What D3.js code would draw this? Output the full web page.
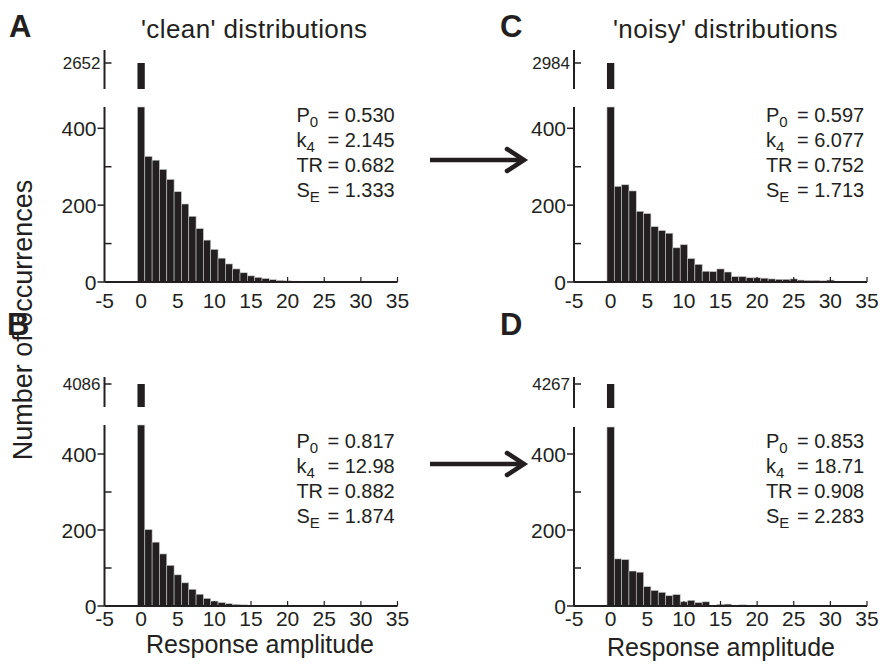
<!DOCTYPE html>
<html>
<head>
<meta charset="utf-8">
<script src="https://cdn.jsdelivr.net/npm/d3@7"></script>
<style>
  body { margin: 0; background: #fff; }
  svg text { font-family: "Liberation Sans", Arial, Helvetica, sans-serif; fill: #231f20; }
</style>
</head>
<body>
<div id="chart"></div>
<script>
// counts per bin of width 1, bin i centred on amplitude i (bin 0 is the big zero peak)
const cleanA = [2652, 327, 317, 293, 267, 235, 203, 171, 139, 109, 85, 62, 47, 34, 24, 16, 12, 9, 6, 4, 3, 2, 1];
const noisyC = [2984, 249, 253, 237, 184, 178, 144, 134, 127, 89, 97, 61, 46, 28, 27, 34, 26, 14, 14, 11, 11, 10, 8, 7, 7, 8, 5, 4, 4, 3, 5, 2, 2, 1, 1];
const cleanB = [4086, 201, 168, 137, 107, 82, 61, 44, 31, 20, 13, 9, 6, 4, 3, 2, 1, 1];
const noisyD = [4267, 124, 122, 92, 89, 51, 41, 36, 27, 30, 11, 15, 9, 11, 1, 4, 5, 2, 3, 2, 1, 1, 1, 2, 1, 1];

// stats shown in each panel: [P0, k4, TR, SE]
const statsA = ["0.530", "2.145", "0.682", "1.333"];
const statsC = ["0.597", "6.077", "0.752", "1.713"];
const statsB = ["0.817", "12.98", "0.882", "1.874"];
const statsD = ["0.853", "18.71", "0.908", "2.283"];

const xTicks = [-5, 0, 5, 10, 15, 20, 25, 30, 35];
const yMajor = [0, 200, 400];
const yMinor = [100, 300];

const W = 883, H = 667;
const dark = "#231f20";

const svg = d3.select("#chart").append("svg")
    .attr("width", W)
    .attr("height", H);

// panel layout (pixels)
const panels = [
    { letter: "A", data: cleanA, stats: statsA, ax: 104.5, zero: 282, y400: 128.3, top: 107, upTop: 50, upBot: 89, brk: 63, xlab: 308, lx: 9, ly: 37 },
    { letter: "C", data: noisyC, stats: statsC, ax: 574, zero: 282, y400: 128.3, top: 107, upTop: 50, upBot: 89, brk: 63, xlab: 308, lx: 500, ly: 37 },
    { letter: "B", data: cleanB, stats: statsB, ax: 104.5, zero: 606, y400: 454, top: 425, upTop: 377, upBot: 407, brk: 384, xlab: 626, lx: 7, ly: 335 },
    { letter: "D", data: noisyD, stats: statsD, ax: 574, zero: 606, y400: 454, top: 427, upTop: 377, upBot: 408, brk: 384, xlab: 626, lx: 500, ly: 335 }
];

panels.forEach(p => {
    const g = svg.append("g");

    const x = d3.scaleLinear().domain([-5, 35]).range([p.ax, p.ax + 293]);
    const y = d3.scaleLinear().domain([0, 400]).range([p.zero, p.y400]);
    const yMax = y.invert(p.top);
    const peak = p.data[0];
    // upper (broken) part of axis
    const yU = d3.scaleLinear().domain([yMax, peak]).range([p.upBot, p.brk]);

    const bins = p.data.map((v, i) => ({ bin: i, v: v }));

    // bars in lower section
    g.selectAll(".bar")
        .data(bins)
        .enter()
        .append("rect")
        .attr("class", "bar")
        .attr("x", d => x(d.bin - 0.5))
        .attr("width", d => x(d.bin + 0.5) - x(d.bin - 0.5))
        .attr("y", d => y(Math.min(d.v, yMax)))
        .attr("height", d => p.zero - y(Math.min(d.v, yMax)))
        .attr("fill", dark)
        .attr("stroke", "#c8c8c8")
        .attr("stroke-width", 0.6);

    // top part of the zero bar
    g.selectAll(".barUp")
        .data(bins.filter(d => d.v > yMax))
        .enter()
        .append("rect")
        .attr("x", d => x(d.bin - 0.5))
        .attr("width", d => x(d.bin + 0.5) - x(d.bin - 0.5))
        .attr("y", d => yU(d.v))
        .attr("height", d => p.upBot - yU(d.v))
        .attr("fill", dark);

    // y axis, lower segment
    g.append("line")
        .attr("x1", p.ax).attr("x2", p.ax)
        .attr("y1", p.zero).attr("y2", p.top)
        .attr("stroke", dark).attr("stroke-width", 2);
    // y axis, upper segment
    g.append("line")
        .attr("x1", p.ax).attr("x2", p.ax)
        .attr("y1", p.upBot).attr("y2", p.upTop)
        .attr("stroke", dark).attr("stroke-width", 2);

    g.selectAll(".ymaj")
        .data(yMajor)
        .enter()
        .append("line")
        .attr("x1", p.ax - 7).attr("x2", p.ax)
        .attr("y1", d => y(d)).attr("y2", d => y(d))
        .attr("stroke", dark).attr("stroke-width", 1.5);

    g.selectAll(".ymin")
        .data(yMinor)
        .enter()
        .append("line")
        .attr("x1", p.ax).attr("x2", p.ax + 7)
        .attr("y1", d => y(d)).attr("y2", d => y(d))
        .attr("stroke", dark).attr("stroke-width", 1.5);

    g.selectAll(".ylab")
        .data(yMajor)
        .enter()
        .append("text")
        .attr("x", p.ax - 8)
        .attr("y", d => y(d))
        .attr("dy", "0.36em")
        .attr("text-anchor", "end")
        .style("font-size", "21px")
        .text(d => d);

    // break tick with the peak count
    g.append("line")
        .attr("x1", p.ax).attr("x2", p.ax + 7)
        .attr("y1", yU(peak)).attr("y2", yU(peak))
        .attr("stroke", dark).attr("stroke-width", 1.5);
    g.append("text")
        .attr("x", p.ax - 4)
        .attr("y", yU(peak))
        .attr("dy", "0.36em")
        .attr("text-anchor", "end")
        .style("font-size", "17px")
        .text(peak);

    // x axis
    g.append("line")
        .attr("x1", p.ax).attr("x2", x(35))
        .attr("y1", p.zero).attr("y2", p.zero)
        .attr("stroke", dark).attr("stroke-width", 2);
    g.selectAll(".xt")
        .data(xTicks.filter(d => d > -5))
        .enter()
        .append("line")
        .attr("x1", d => x(d)).attr("x2", d => x(d))
        .attr("y1", p.zero).attr("y2", p.zero - 5)
        .attr("stroke", dark).attr("stroke-width", 1.2);
    g.selectAll(".xlab")
        .data(xTicks)
        .enter()
        .append("text")
        .attr("x", d => x(d))
        .attr("y", p.xlab)
        .attr("text-anchor", "middle")
        .style("font-size", "21px")
        .text(d => d);

    // stats block
    const names = [["P", "0"], ["k", "4"], ["TR", ""], ["S", "E"]];
    const sx = x(21.2);
    const sy = y(400) - 6;
    names.forEach((n, i) => {
        const t = g.append("text")
            .attr("x", sx)
            .attr("y", sy + i * 25)
            .style("font-size", "20px");
        t.append("tspan").text(n[0]);
        if (n[1]) {
            t.append("tspan")
                .attr("dy", 5)
                .style("font-size", "15px")
                .text(n[1]);
        }
        g.append("text")
            .attr("x", sx + 31)
            .attr("y", sy + i * 25)
            .style("font-size", "20px")
            .text("= " + p.stats[i]);
    });

    // panel letter
    svg.append("text")
        .attr("x", p.lx)
        .attr("y", p.ly)
        .style("font-size", "31px")
        .style("font-weight", "bold")
        .text(p.letter);
});

// titles
svg.append("text").attr("x", 141).attr("y", 38).style("font-size", "26px").style("letter-spacing", "0.4px").text("'clean' distributions");
svg.append("text").attr("x", 613).attr("y", 38).style("font-size", "26px").style("letter-spacing", "0.4px").text("'noisy' distributions");

// axis titles
svg.append("text")
    .attr("transform", "translate(32,320) rotate(-90)")
    .attr("text-anchor", "middle")
    .style("font-size", "27px")
    .text("Number of occurrences");
svg.append("text").attr("x", 260).attr("y", 653).attr("text-anchor", "middle").style("font-size", "25px").text("Response amplitude");
svg.append("text").attr("x", 721).attr("y", 656).attr("text-anchor", "middle").style("font-size", "25px").text("Response amplitude");

// arrows between columns
[160, 464].forEach(ay => {
    svg.append("line")
        .attr("x1", 430).attr("x2", 522)
        .attr("y1", ay).attr("y2", ay)
        .attr("stroke", dark).attr("stroke-width", 4.5);
    svg.append("path")
        .attr("d", `M507,${ay - 11} L524,${ay} L507,${ay + 11}`)
        .attr("fill", "none")
        .attr("stroke", dark)
        .attr("stroke-width", 4.5)
        .attr("stroke-linecap", "round")
        .attr("stroke-linejoin", "miter");
});
</script>
</body>
</html>
